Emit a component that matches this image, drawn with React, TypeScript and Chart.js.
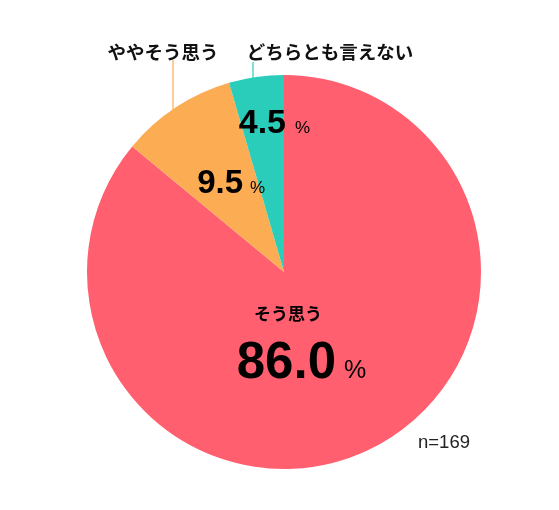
import React, { useEffect, useRef } from "react";
import { Chart, registerables } from "chart.js";

Chart.register(...registerables);

const categories = ["そう思う", "ややそう思う", "どちらとも言えない"];
const values = [86.0, 9.5, 4.5];
const colors = ["#FF5F6E", "#FCAD54", "#2ACDB9"];
const sampleNote = "n=169";

const NUM_FONT = '"Liberation Sans", Arial, sans-serif';
const JP_FONT = '"Noto Sans CJK JP", sans-serif';

const labelPlugin = {
  id: "labels",
  afterDraw(chart: any) {
    const ctx = chart.ctx as CanvasRenderingContext2D;
    const meta = chart.getDatasetMeta(0);
    const a0 = meta.data[0];
    const cx = a0.x;
    const cy = a0.y;
    const r = a0.outerRadius;
    ctx.save();
    ctx.fillStyle = "#000";

    const numPct = (text: string, right: number, base: number, size: number, pctX: number, pctSize: number) => {
      ctx.font = `bold ${size}px ${NUM_FONT}`;
      ctx.textAlign = "right";
      ctx.textBaseline = "alphabetic";
      ctx.fillText(text, right, base);
      ctx.font = `${pctSize}px ${NUM_FONT}`;
      ctx.textAlign = "left";
      ctx.fillText("%", pctX, base);
    };

    // main slice
    ctx.font = `bold 17px ${JP_FONT}`;
    ctx.textAlign = "center";
    ctx.textBaseline = "middle";
    ctx.fillText(categories[0], cx + 4, cy + 42);
    numPct(values[0].toFixed(1), cx + 52, cy + 106, 51, cx + 60, 25);

    // 9.5
    numPct(values[1].toFixed(1), cx - 41, cy - 79, 33, cx - 34, 17);
    // 4.5
    numPct(values[2].toFixed(1), cx + 2, cy - 139, 34, cx + 11, 17);

    // leader lines
    const edgeY = (x: number) => cy - Math.sqrt(r * r - (x - cx) * (x - cx));
    ctx.lineWidth = 1.2;
    ctx.strokeStyle = colors[1];
    ctx.beginPath();
    ctx.moveTo(cx - 111, cy - 212);
    ctx.lineTo(cx - 111, edgeY(cx - 111) + 1);
    ctx.stroke();
    ctx.strokeStyle = colors[2];
    ctx.beginPath();
    ctx.moveTo(cx - 31, cy - 210);
    ctx.lineTo(cx - 31, edgeY(cx - 31) + 1);
    ctx.stroke();

    // outside labels
    ctx.fillStyle = "#111";
    ctx.font = `bold 18.5px ${JP_FONT}`;
    ctx.textAlign = "center";
    ctx.textBaseline = "middle";
    ctx.fillText(categories[1], cx - 121, cy - 220);
    ctx.fillText(categories[2], cx + 46, cy - 220);

    // n
    ctx.font = `18.5px ${NUM_FONT}`;
    ctx.textAlign = "left";
    ctx.textBaseline = "alphabetic";
    ctx.fillStyle = "#222";
    ctx.fillText(sampleNote, cx + 134, cy + 176);
    ctx.restore();
  },
};

export default function App() {
  const ref = useRef<HTMLCanvasElement>(null);
  useEffect(() => {
    const chart = new Chart(ref.current as HTMLCanvasElement, {
      type: "pie",
      data: {
        labels: categories,
        datasets: [
          {
            data: values,
            backgroundColor: colors,
            borderWidth: 0,
          },
        ],
      },
      options: {
        animation: false,
        responsive: false,
        layout: { padding: { left: 87, right: 78, top: 75, bottom: 41 } },
        plugins: { legend: { display: false }, tooltip: { enabled: false } },
      },
      plugins: [labelPlugin],
    });
    return () => chart.destroy();
  }, []);
  return (
    <div style={{ position: "fixed", left: 0, top: 0, width: 559, height: 510, background: "#fff" }}>
      <canvas ref={ref} width={559} height={510} style={{ width: 559, height: 510 }} />
    </div>
  );
}
